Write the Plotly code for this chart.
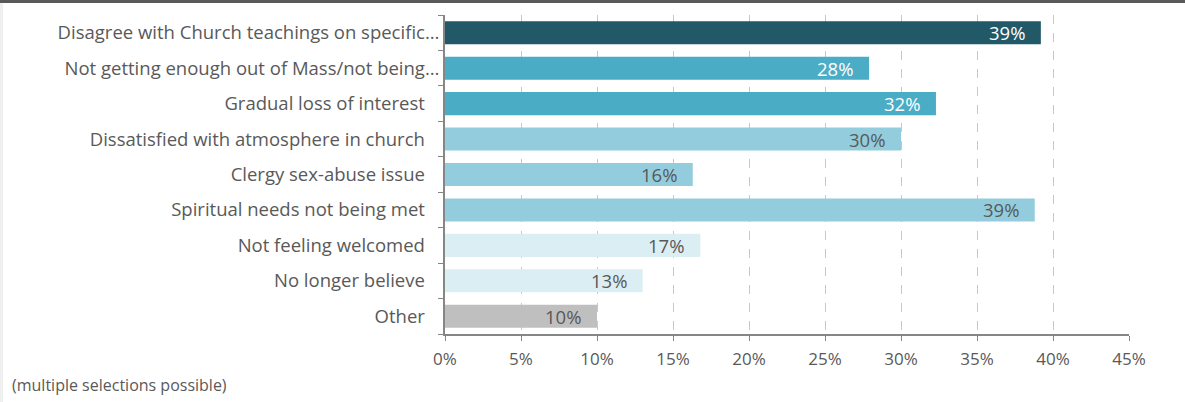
import plotly.graph_objects as go

# Razones (de arriba a abajo) y porcentajes
razones = [
    "Disagree with Church teachings on specific…",
    "Not getting enough out of Mass/not being…",
    "Gradual loss of interest",
    "Dissatisfied with atmosphere in church",
    "Clergy sex-abuse issue",
    "Spiritual needs not being met",
    "Not feeling welcomed",
    "No longer believe",
    "Other",
]
porcentajes = [39.2, 27.9, 32.3, 30.0, 16.3, 38.8, 16.8, 13.0, 10.0]
etiquetas = ["39%", "28%", "32%", "30%", "16%", "39%", "17%", "13%", "10%"]

colores = ["#215968", "#4bacc6", "#4bacc6", "#93cddd", "#93cddd", "#93cddd",
           "#dbeef4", "#dbeef4", "#bfbfbf"]
colores_texto = ["white", "white", "white", "#595959", "#595959", "#595959",
                 "#595959", "#595959", "#595959"]

FUENTE = "Open Sans, Arial, sans-serif"

# las etiquetas completas quedan un poco más a la izquierda que las truncadas
texto_ejes = [r if r.endswith("…") else r + "\u00a0\u00a0\u00a0" for r in razones]

fig = go.Figure()
fig.add_trace(go.Bar(
    x=porcentajes,
    y=razones,
    orientation="h",
    marker=dict(color=colores, line=dict(width=0)),
    hoverinfo="skip",
))

# Etiquetas de datos dentro de la barra, alineadas a la derecha
for r, v, t, c in zip(razones, porcentajes, etiquetas, colores_texto):
    fig.add_annotation(x=v, y=r, text=t, showarrow=False, xanchor="right",
                       xshift=-14, font=dict(family=FUENTE, size=18.5, color=c))

fig.add_annotation(text="(multiple selections possible)", xref="paper", yref="paper",
                   x=-435 / 684, y=-51 / 319, xanchor="left", yanchor="middle",
                   showarrow=False, font=dict(family=FUENTE, size=16, color="#595959"))

fig.update_layout(
    width=1185, height=402,
    margin=dict(l=445, r=56, t=15, b=68),
    paper_bgcolor="white", plot_bgcolor="white",
    bargap=0.35,
    showlegend=False,
    font=dict(family=FUENTE, color="#595959"),
    shapes=[
        dict(type="rect", xref="paper", yref="paper", x0=-445 / 684, x1=740 / 684,
             y0=1 + 12 / 319, y1=1 + 15 / 319, fillcolor="#595959", line=dict(width=0), layer="above"),
        dict(type="rect", xref="paper", yref="paper", x0=-445 / 684, x1=-442 / 684,
             y0=-68 / 319, y1=1 + 12 / 319, fillcolor="#efefef", line=dict(width=0)),
    ],
)
fig.update_xaxes(
    range=[0, 45], dtick=5, ticksuffix="%",
    showgrid=True, gridcolor="#c8c8c8", griddash="dash", gridwidth=1,
    showline=True, linecolor="#868686", linewidth=2,
    ticks="outside", ticklen=5, tickcolor="#868686", ticklabelstandoff=4,
    tickfont=dict(size=17, color="#595959"), zeroline=False, fixedrange=True,
)
fig.update_yaxes(
    categoryorder="array", categoryarray=razones, autorange="reversed",
    tickmode="array", tickvals=razones, ticktext=texto_ejes,
    showline=True, linecolor="#868686", linewidth=2,
    ticks="outside", ticklen=5, tickcolor="#868686", tickson="boundaries",
    tickfont=dict(size=18.5, color="#595959"), showgrid=False, fixedrange=True,
)

# quitar el margen por defecto del <body> para que la figura empiece en (0, 0)
fig.write_html("out.html", config={"displayModeBar": False},
               post_script="document.body.style.margin='0';")
